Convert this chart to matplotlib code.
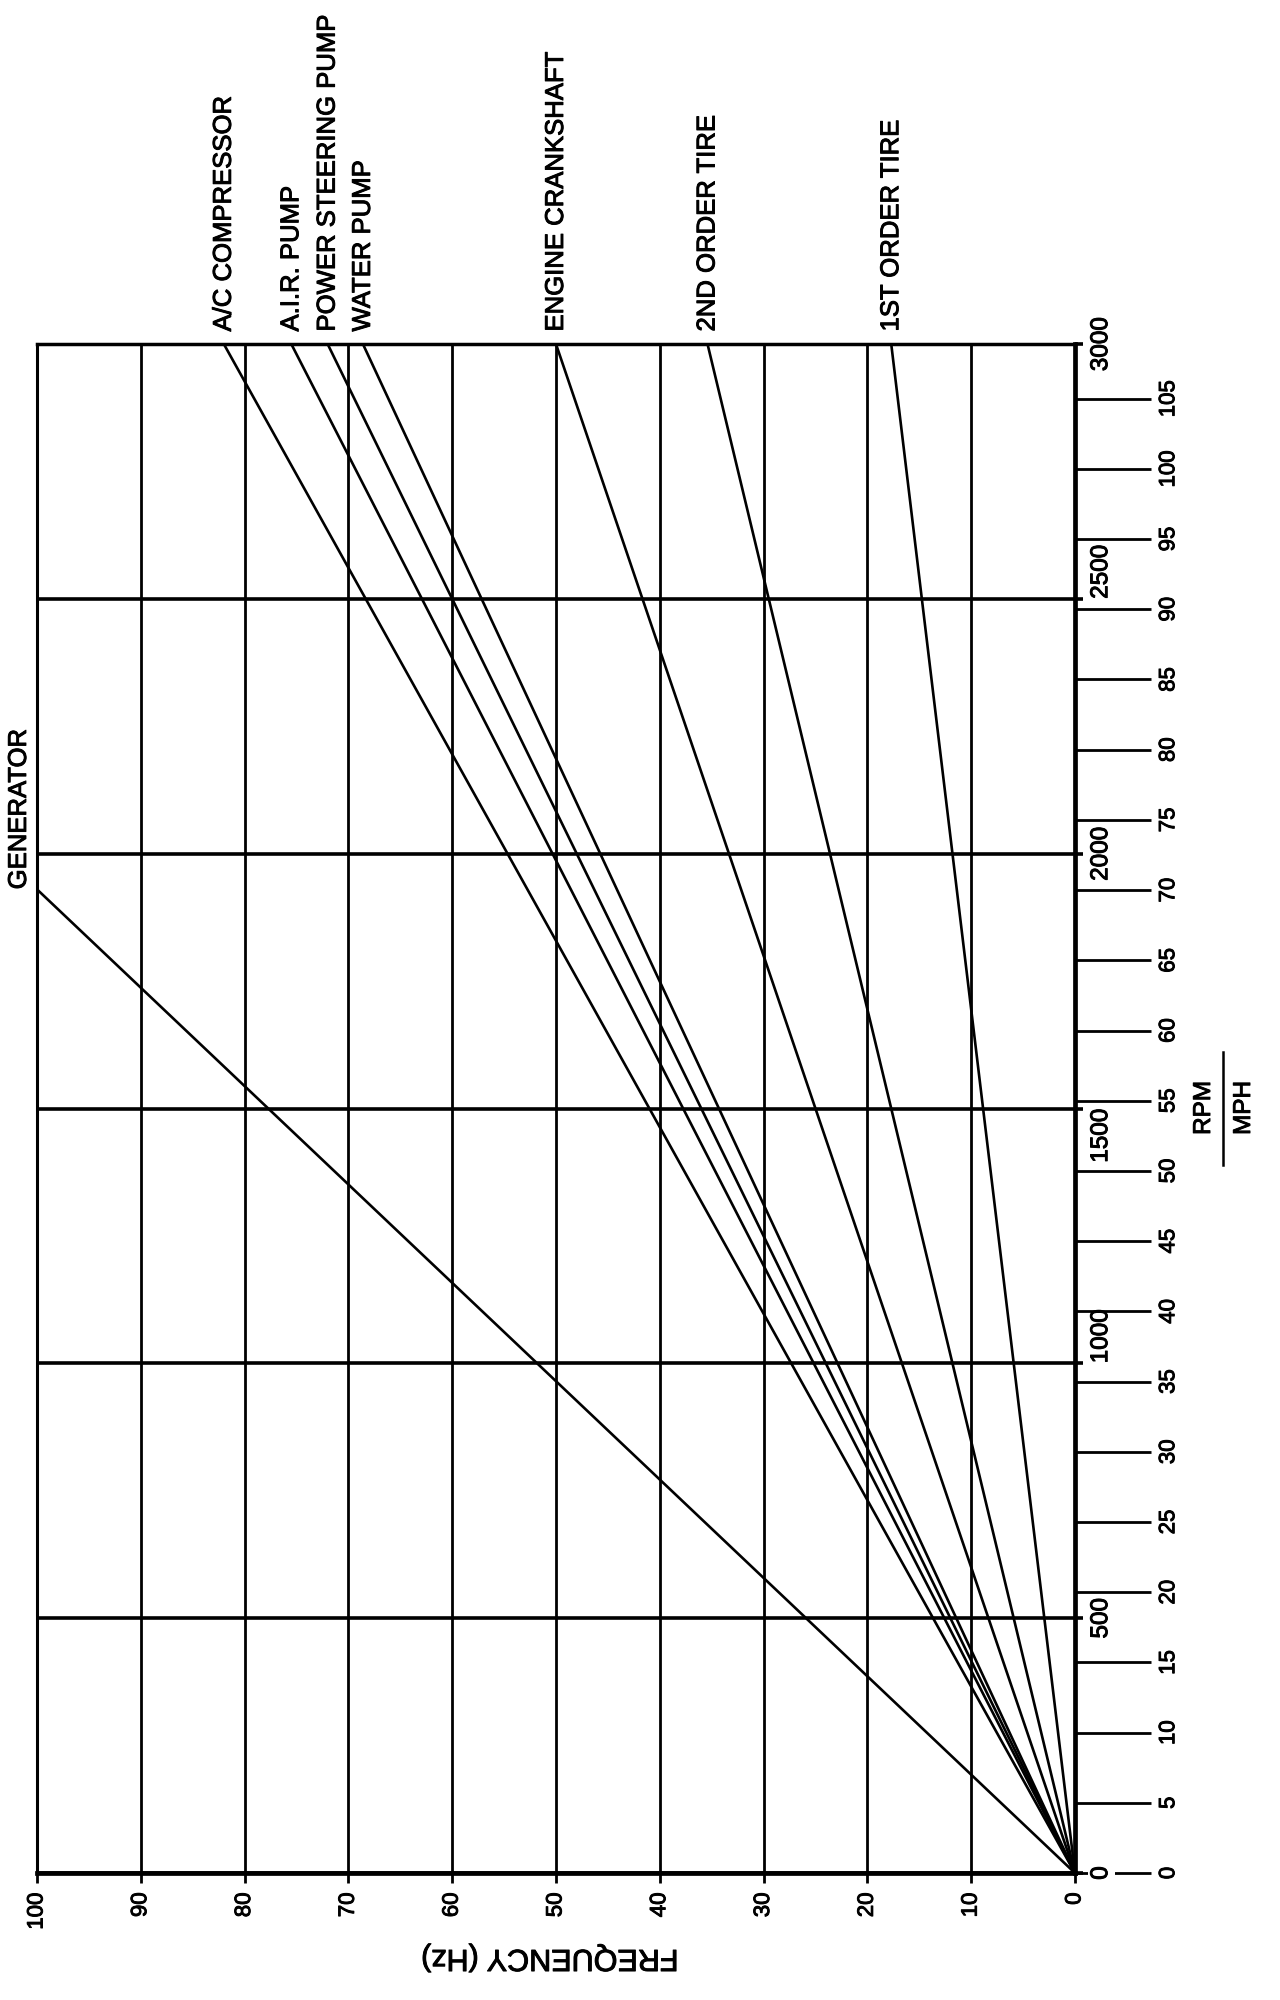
#! /usr/bin/env python3

import matplotlib
matplotlib.use("Agg")
import matplotlib.pyplot as plt
import matplotlib.patheffects as patheffects
from matplotlib.lines import Line2D

"""
Values read off the chart.
"""

# every line starts at 0 Hz / 0 RPM and runs to (end_hz, end_rpm)
sources = ["GENERATOR", "A/C COMPRESSOR", "A.I.R. PUMP", "POWER STEERING PUMP",
           "WATER PUMP", "ENGINE CRANKSHAFT", "2ND ORDER TIRE", "1ST ORDER TIRE"]
end_hz  = [100.0, 82.0, 75.5, 72.0, 68.6, 50.0, 35.4, 17.7]
end_rpm = [1930, 3000, 3000, 3000, 3000, 3000, 3000, 3000]

hz_ticks  = list(range(0, 101, 10))
rpm_ticks = list(range(0, 3001, 500))
mph_ticks = list(range(0, 106, 5))

rpm_per_mph = 27.55   # scale of the MPH axis

# vertical alignment of the rotated RPM labels, as in the drawing
rpm_label_va = ["center", "center", "bottom", "top", "center", "bottom", "center"]

"""
Drawing (the chart is printed turned a quarter turn).
"""

plt.rcParams["font.family"] = ["Liberation Sans", "DejaVu Sans"]
heavy = [patheffects.withStroke(linewidth=0.7, foreground="k")]

fig = plt.figure(figsize=(12.8, 20), dpi=100)
ax = fig.add_axes([0.0289, 0.0635, 0.8109, 0.7645])

ax.set_xlim(100, 0)
ax.set_ylim(0, 3000)

for name, hz, rpm in zip(sources, end_hz, end_rpm):
    ax.plot([0, hz], [0, rpm], color="k", lw=1.9, solid_capstyle="butt")
    if name == "GENERATOR":
        offset = (-13, 0)
    else:
        offset = (0, 9)
    ax.annotate(name, (hz, rpm), xytext=offset, textcoords="offset points",
                rotation=90, ha="center", va="bottom", fontsize=18.5,
                annotation_clip=False, path_effects=heavy)

ax.set_xticks(hz_ticks)
ax.set_yticks(rpm_ticks)
ax.grid(axis="x", color="k", lw=2.0)
ax.grid(axis="y", color="k", lw=2.6)
ax.set_axisbelow(True)

for side, w in [("left", 2.2), ("top", 2.5), ("right", 3.4), ("bottom", 3.4)]:
    ax.spines[side].set_color("k")
    ax.spines[side].set_linewidth(w)

ax.tick_params(axis="x", direction="out", length=7, width=2.0, pad=7,
               labelsize=16, labelrotation=90)
ax.tick_params(axis="y", direction="out", length=6, width=2.6, pad=5,
               left=False, labelleft=False, right=True, labelright=True,
               labelsize=17.5, labelrotation=90)
for lbl, va in zip(ax.get_yticklabels(), rpm_label_va):
    lbl.set_va(va)
    lbl.set_ha("left")
ax.get_yticklabels()[0].set_bbox(dict(facecolor="white", edgecolor="none", pad=2))
for lbl in ax.get_xticklabels() + ax.get_yticklabels():
    lbl.set_path_effects(heavy)

sec = ax.secondary_yaxis("right", functions=(lambda r: r / rpm_per_mph,
                                             lambda m: m * rpm_per_mph))
sec.set_yticks(mph_ticks)
sec.spines["right"].set_visible(False)
sec.tick_params(direction="out", length=55, width=2.0, pad=5,
                labelsize=16, labelrotation=90)
for lbl in sec.get_yticklabels():
    lbl.set_va("center")
    lbl.set_path_effects(heavy)

fig.text(550 / 1280, 1 - 1958 / 2000, "FREQUENCY (Hz)", rotation=180,
         ha="center", va="center", fontsize=22, path_effects=heavy)

fig.text(1204 / 1280, 1 - 1108 / 2000, "RPM", rotation=90,
         ha="center", va="center", fontsize=17.5, path_effects=heavy)
fig.text(1244 / 1280, 1 - 1108 / 2000, "MPH", rotation=90,
         ha="center", va="center", fontsize=17.5, path_effects=heavy)
fig.add_artist(Line2D([1223 / 1280, 1223 / 1280], [1 - 1052 / 2000, 1 - 1165 / 2000],
                      color="k", lw=1.8))

fig.savefig("out.png", dpi=100)
